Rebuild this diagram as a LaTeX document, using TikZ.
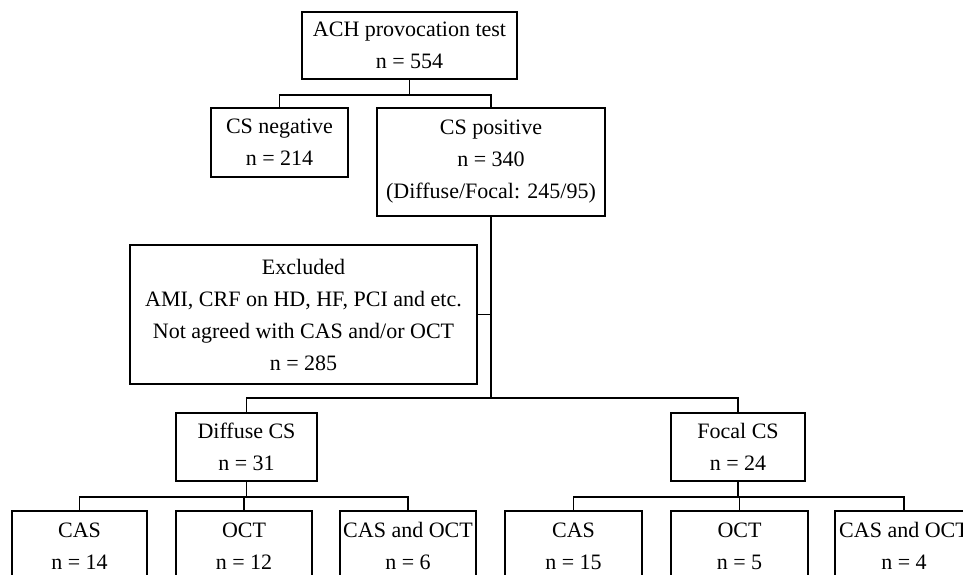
\documentclass[tikz,border=0pt]{standalone}
\usepackage{fontspec}
\setmainfont{Liberation Serif}
\begin{document}
\begin{tikzpicture}[x=1pt,y=-1pt,
  box/.style={draw, line width=1.4pt, align=center, inner sep=0pt, font=\fontsize{22}{32}\selectfont},
  conn/.style={line width=1.4pt}]
\useasboundingbox (0,0) rectangle (963,575);
\begin{scope}
\clip (0,0) rectangle (963,575);
\node[box, minimum width=215, minimum height=67] (top) at (409.5,45.5) {ACH provocation test\\n = 554};
\node[box, minimum width=137, minimum height=69] (neg) at (279.5,142.5) {CS negative\\n = 214};
\node[box, minimum width=228, minimum height=108] (pos) at (491,162) {CS positive\\n = 340\\(Diffuse/Focal: 245/95)};
\node[box, minimum width=347, minimum height=139] (exc) at (303.5,314.5) {Excluded\\AMI, CRF on HD, HF, PCI and etc.\\Not agreed with CAS and/or OCT\\n = 285};
\node[box, minimum width=141, minimum height=68] (dif) at (246.5,447) {Diffuse CS\\n = 31};
\node[box, minimum width=134, minimum height=68] (foc) at (738,447) {Focal CS\\n = 24};
\node[box, minimum width=135, minimum height=70] (d1) at (79.5,546) {CAS\\n = 14};
\node[box, minimum width=136, minimum height=70] (d2) at (244,546) {OCT\\n = 12};
\node[box, minimum width=136, minimum height=70] (d3) at (408,546) {CAS and OCT\\n = 6};
\node[box, minimum width=137, minimum height=70] (f1) at (573.5,546) {CAS\\n = 15};
\node[box, minimum width=137, minimum height=70] (f2) at (739.5,546) {OCT\\n = 5};
\node[box, minimum width=138, minimum height=70] (f3) at (904,546) {CAS and OCT\\n = 4};
\coordinate (b1) at (409.5,95);
\coordinate (b2) at (491,398);
\coordinate (b3) at (244,497);
\coordinate (b4) at (739,497);
\draw[conn] (top.south) -- (b1);
\draw[conn] (neg.north) -- (neg.north |- b1) -| (pos.north);
\draw[conn] (pos.south) -- (b2);
\draw[conn] (exc.east) -- (exc.east -| pos.south);
\draw[conn] (dif.north) -- (dif.north |- b2) -| (foc.north);
\draw[conn] (dif.south) -- (dif.south |- b3);
\draw[conn] (d1.north) -- (d1.north |- b3) -| (d3.north);
\draw[conn] (d2.north) -- (d2.north |- b3);
\draw[conn] (foc.south) -- (foc.south |- b4);
\draw[conn] (f1.north) -- (f1.north |- b4) -| (f3.north);
\draw[conn] (f2.north) -- (f2.north |- b4);
\end{scope}
\end{tikzpicture}
\end{document}
